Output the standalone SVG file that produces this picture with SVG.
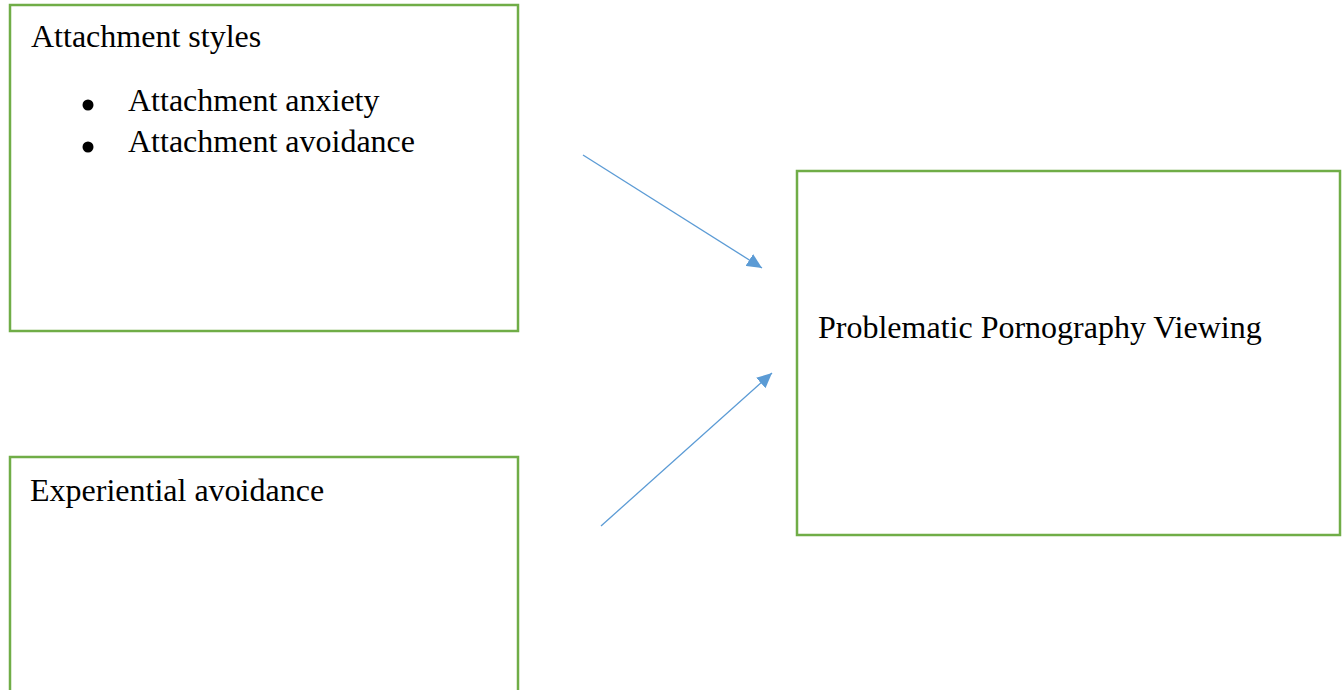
<svg xmlns="http://www.w3.org/2000/svg" width="1344" height="690" viewBox="0 0 1344 690">
  <style>
    .box { fill: #FFFFFF; stroke: #70AD47; stroke-width: 2.5; }
    .label { font-family: "Liberation Serif", "Times New Roman", serif; font-size: 32px; fill: #000000; }
    .bullet { fill: #000000; }
    .conn { stroke: #5B9BD5; stroke-width: 1.3; fill: none; }
  </style>
  <defs>
    <marker id="arrow" markerUnits="userSpaceOnUse" markerWidth="16" markerHeight="14" refX="15" refY="7" orient="auto">
      <path d="M0,0 L15,7 L0,14 z" fill="#5B9BD5"/>
    </marker>
  </defs>
  <rect width="1344" height="690" fill="#FFFFFF"/>

  <g id="node-attachment-styles">
    <rect class="box" x="10" y="5" width="508" height="326"/>
    <text class="label" x="31" y="47">Attachment styles</text>
    <circle class="bullet" cx="88" cy="105" r="5.5"/>
    <text class="label" x="128" y="111">Attachment anxiety</text>
    <circle class="bullet" cx="88" cy="147" r="5.5"/>
    <text class="label" x="128" y="152">Attachment avoidance</text>
  </g>

  <g id="node-experiential-avoidance">
    <rect class="box" x="10" y="457" width="508" height="300"/>
    <text class="label" x="30" y="501">Experiential avoidance</text>
  </g>

  <g id="node-problematic-viewing">
    <rect class="box" x="797" y="171" width="543" height="364"/>
    <text class="label" x="818" y="338">Problematic Pornography Viewing</text>
  </g>

  <g id="connectors">
    <line class="conn" x1="583" y1="155" x2="762" y2="268" marker-end="url(#arrow)"/>
    <line class="conn" x1="601" y1="526" x2="772" y2="373" marker-end="url(#arrow)"/>
  </g>
</svg>
